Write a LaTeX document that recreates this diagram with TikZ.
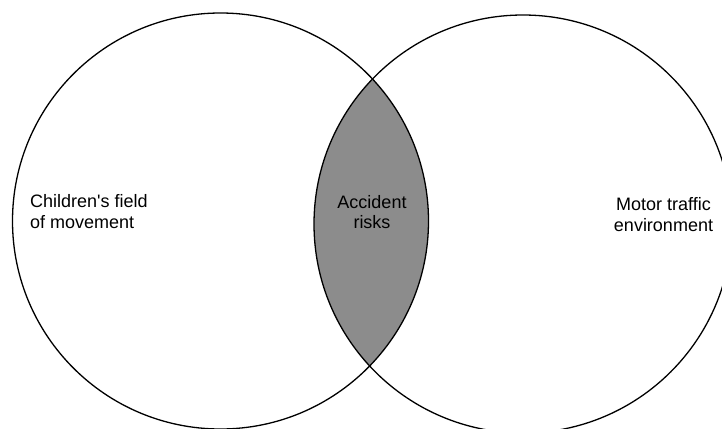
\documentclass[tikz,border=0pt]{standalone}
\usepackage{fontspec}
\setmainfont{Liberation Sans}
\definecolor{lensgray}{gray}{0.55}
\begin{document}
\begin{tikzpicture}[x=1pt,y=-1pt,
  ring/.style={circle,draw=black,line width=1.3pt,inner sep=0pt},
  label/.style={font=\fontsize{18}{20.5}\selectfont,inner sep=0pt,text=black}]
\useasboundingbox (0,0) rectangle (722,428);
\coordinate (cL) at (220.5,221);
\coordinate (cR) at (523,224);
\begin{scope}
  \clip (cL) circle[radius=208pt];
  \fill[lensgray] (cR) circle[radius=209pt];
\end{scope}
\node[ring,minimum size=416pt] (L) at (cL) {};
\node[ring,minimum size=418pt] (R) at (cR) {};
\node[label,align=left,anchor=west] (tL) at (30,211.5) {Children\textquotesingle s field\\of movement};
\node[label,align=center] (tM) at (372,212) {Accident\\risks};
\node[label,align=center] (tR) at (663.5,214.5) {Motor traffic\\environment};
\end{tikzpicture}
\end{document}
